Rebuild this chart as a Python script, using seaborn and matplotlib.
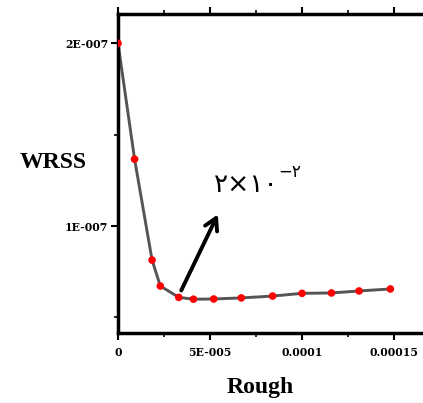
import matplotlib
matplotlib.use("Agg")
import matplotlib.pyplot as plt
import seaborn as sns
import pandas as pd
from matplotlib.ticker import FixedLocator

rough = [0, 0.9e-5, 1.85e-5, 2.3e-5, 3.3e-5, 4.1e-5, 5.2e-5, 6.7e-5, 8.4e-5, 1.0e-4, 1.16e-4, 1.31e-4, 1.48e-4]
wrss = [2.0e-7, 1.366e-7, 0.814e-7, 0.672e-7, 0.61e-7, 0.60e-7, 0.601e-7, 0.607e-7, 0.617e-7, 0.632e-7, 0.634e-7, 0.645e-7, 0.656e-7]
x_ticks = [0, 5e-5, 1e-4, 1.5e-4]
x_labels = ["0", "5E-005", "0.0001", "0.00015"]
y_ticks = [1e-7, 2e-7]
y_labels = ["1E-007", "2E-007"]

df = pd.DataFrame({"Rough": rough, "WRSS": wrss})

sns.set_theme(style="ticks")
plt.rcParams['font.family'] = ['DejaVu Sans']
plt.rcParams['text.color'] = 'black'
plt.rcParams['xtick.color'] = 'black'
plt.rcParams['ytick.color'] = 'black'

fig = plt.figure(figsize=(4.23, 4.03), dpi=100)
ax = fig.add_axes([0.279, 0.1737, 0.7395, 0.7915])

sns.lineplot(data=df, x="Rough", y="WRSS", ax=ax, color="#555555", linewidth=2.1, zorder=2)
sns.scatterplot(data=df, x="Rough", y="WRSS", ax=ax, color="#ff0000", s=30, edgecolor="none", zorder=3)

ax.set_xlim(0, 0.00017)
ax.set_ylim(0.415e-7, 2.16e-7)

ax.xaxis.set_major_locator(FixedLocator(x_ticks))
ax.xaxis.set_minor_locator(FixedLocator([2.5e-5, 7.5e-5, 1.25e-4, 1.75e-4]))
ax.set_xticklabels(x_labels)
ax.yaxis.set_major_locator(FixedLocator(y_ticks))
ax.yaxis.set_minor_locator(FixedLocator([0.5e-7, 1.5e-7]))
ax.set_yticklabels(y_labels)

for lab in ax.get_xticklabels() + ax.get_yticklabels():
    lab.set_fontfamily("DejaVu Serif")
    lab.set_fontweight("bold")
    lab.set_fontsize(7.8)
    lab.set_color("black")

ax.tick_params(axis="both", which="major", direction="out", length=5, width=1.5, colors="black", pad=2)
ax.tick_params(axis="both", which="minor", direction="out", length=3, width=1.2, colors="black")
ax.tick_params(axis="x", top=True, which="both")
ax.tick_params(axis="x", pad=5)

for side in ["left", "bottom", "top"]:
    ax.spines[side].set_visible(True)
    ax.spines[side].set_linewidth(2.5)
    ax.spines[side].set_color("black")
ax.spines["right"].set_visible(False)

ax.set_xlabel("")
ax.set_ylabel("")

fig.text(53 / 423, 1 - 163 / 403, "WRSS", fontfamily="Liberation Serif", fontweight="bold",
         fontsize=17, ha="center", va="center", color="black")
fig.text(260 / 423, 1 - 387 / 403, "Rough", fontfamily="Liberation Serif", fontweight="bold",
         fontsize=17, ha="center", va="center", color="black")

ax.annotate("", xy=(5.49e-5, 1.077e-7), xytext=(3.37e-5, 0.634e-7),
            arrowprops=dict(arrowstyle="->,head_length=0.7,head_width=0.4", lw=2.8, color="black"),
            zorder=4)
ax.text(6.96e-5, 1.224e-7, "٢×١٠", fontfamily="DejaVu Sans", fontsize=19, ha="center", va="center", color="black")
ax.text(9.35e-5, 1.295e-7, "−٢", fontfamily="DejaVu Sans", fontsize=12, ha="center", va="center", color="black")

fig.savefig("out.png", dpi=100)
